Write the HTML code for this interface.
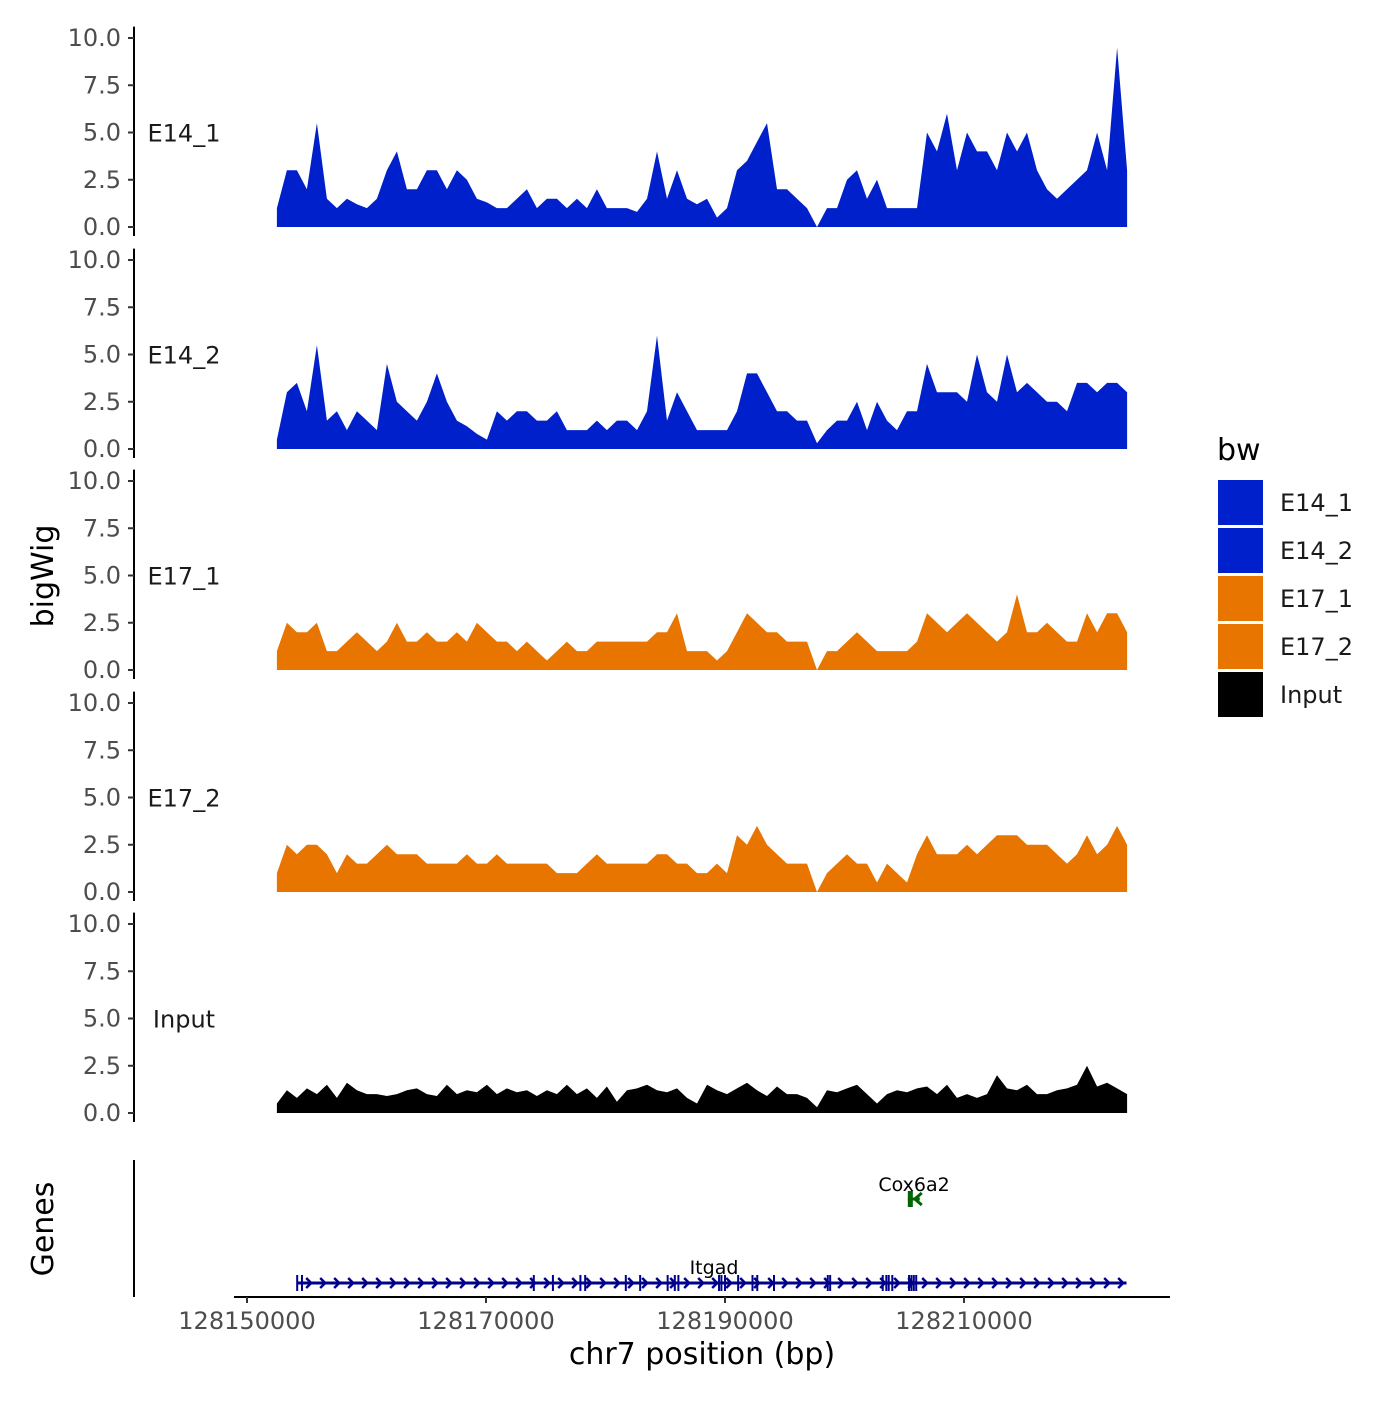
<!DOCTYPE html>
<html><head><meta charset="utf-8"><style>
body{margin:0;background:#fff;}
svg text{font-family:"DejaVu Sans","Liberation Sans",sans-serif;}
</style></head><body>
<svg id="c" width="1400" height="1400" viewBox="0 0 1400 1400" xmlns="http://www.w3.org/2000/svg"></svg>
<script>
const trackNames=["E14_1","E14_2","E17_1","E17_2","Input"];
const trackColors=["#0020CC","#0020CC","#E87500","#E87500","#000000"];
const yTicks=[0,2.5,5,7.5,10];
const yTickLabels=["0.0","2.5","5.0","7.5","10.0"];
const xTicks=[128150000,128170000,128190000,128210000];
const dataStart=128152500, dataStep=837;
const e14_1=[1,3,3,2,5.5,1.5,1,1.5,1.2,1,1.5,3,4,2,2,3,3,2,3,2.5,1.5,1.3,1,1,1.5,2,1,1.5,1.5,1,1.5,1,2,1,1,1,0.8,1.5,4,1.5,3,1.5,1.2,1.5,0.5,1,3,3.5,4.5,5.5,2,2,1.5,1,0,1,1,2.5,3,1.5,2.5,1,1,1,1,5,4,6,3,5,4,4,3,5,4,5,3,2,1.5,2,2.5,3,5,3,9.5,3];
const e14_2=[0.5,3,3.5,2,5.5,1.5,2,1,2,1.5,1,4.5,2.5,2,1.5,2.5,4,2.5,1.5,1.2,0.8,0.5,2,1.5,2,2,1.5,1.5,2,1,1,1,1.5,1,1.5,1.5,1,2,6,1.5,3,2,1,1,1,1,2,4,4,3,2,2,1.5,1.5,0.3,1,1.5,1.5,2.5,1,2.5,1.5,1,2,2,4.5,3,3,3,2.5,5,3,2.5,5,3,3.5,3,2.5,2.5,2,3.5,3.5,3,3.5,3.5,3];
const e17_1=[1,2.5,2,2,2.5,1,1,1.5,2,1.5,1,1.5,2.5,1.5,1.5,2,1.5,1.5,2,1.5,2.5,2,1.5,1.5,1,1.5,1,0.5,1,1.5,1,1,1.5,1.5,1.5,1.5,1.5,1.5,2,2,3,1,1,1,0.5,1,2,3,2.5,2,2,1.5,1.5,1.5,0,1,1,1.5,2,1.5,1,1,1,1,1.5,3,2.5,2,2.5,3,2.5,2,1.5,2,4,2,2,2.5,2,1.5,1.5,3,2,3,3,2];
const e17_2=[1,2.5,2,2.5,2.5,2,1,2,1.5,1.5,2,2.5,2,2,2,1.5,1.5,1.5,1.5,2,1.5,1.5,2,1.5,1.5,1.5,1.5,1.5,1,1,1,1.5,2,1.5,1.5,1.5,1.5,1.5,2,2,1.5,1.5,1,1,1.5,1,3,2.5,3.5,2.5,2,1.5,1.5,1.5,0,1,1.5,2,1.5,1.5,0.5,1.5,1,0.5,2,3,2,2,2,2.5,2,2.5,3,3,3,2.5,2.5,2.5,2,1.5,2,3,2,2.5,3.5,2.5];
const input=[0.5,1.2,0.8,1.3,1,1.5,0.8,1.6,1.2,1,1,0.9,1,1.2,1.3,1,0.9,1.5,1,1.2,1.1,1.5,1,1.3,1.1,1.2,0.9,1.2,1,1.5,1,1.3,0.8,1.4,0.6,1.2,1.3,1.5,1.2,1.1,1.3,0.8,0.5,1.5,1.2,1,1.3,1.6,1.2,0.9,1.4,1,1,0.8,0.3,1.2,1.1,1.3,1.5,1,0.5,1,1.2,1.1,1.3,1.4,1,1.5,0.8,1,0.8,1,2,1.3,1.2,1.5,1,1,1.2,1.3,1.5,2.5,1.4,1.6,1.3,1];
const trackValues=[e14_1,e14_2,e17_1,e17_2,input];
const itgadExons=[128154200,128154600,128174000,128175600,128177900,128178300,128181700,128182900,128185200,128185800,128186100,128189500,128189700,128190000,128191100,128192300,128192700,128194100,128198600,128198800,128203200,128203500,128203700,128204000,128205400,128205600,128205800,128206000];
const itgadStart=128154200, itgadEnd=128223600;
const cox6a2=[128205300,128206300];

const svg=document.getElementById('c');
const NS='http://www.w3.org/2000/svg';
function mk(tag,attrs,parent){const e=document.createElementNS(NS,tag);for(const k in attrs)e.setAttribute(k,attrs[k]);(parent||svg).appendChild(e);return e;}
const xScale=bp=>247+(bp-128150000)*239/20000;
const panelZero=[227,449,670,892,1113];
const yScale=(p,v)=>panelZero[p]-v*18.9;

trackNames.forEach((name,p)=>{
  const g=mk('g',{});
  
  
  mk('line',{x1:134,x2:134,y1:yScale(p,10.6),y2:panelZero[p]+9,stroke:'#000','stroke-width':2},g);
  yTicks.forEach((t,i)=>{
    const y=yScale(p,t);
    mk('line',{x1:128,x2:134,y1:y,y2:y,stroke:'#333','stroke-width':2},g);
    const tx=mk('text',{x:121,y:y+8,'text-anchor':'end','font-size':24,fill:'#4d4d4d'},g);
    tx.textContent=yTickLabels[i];
    
    
  });
  const lab=mk('text',{x:184,y:yScale(p,5)+9,'text-anchor':'middle','font-size':24,fill:'#1a1a1a'},g);
  lab.textContent=name;
  
  
  const vals=trackValues[p];
  let d='M'+xScale(dataStart)+','+panelZero[p];
  vals.forEach((v,i)=>{d+=' L'+xScale(dataStart+i*dataStep).toFixed(1)+','+yScale(p,v).toFixed(1);});
  d+=' L'+xScale(dataStart+(vals.length-1)*dataStep).toFixed(1)+','+panelZero[p]+'Z';
  const a=mk('path',{d:d,fill:trackColors[p]},g);
  
  
});

// genes panel
const gg=mk('g',{});


mk('line',{x1:134,x2:134,y1:1160,y2:1297,stroke:'#000','stroke-width':2},gg);
const gy=1283;
mk('line',{x1:xScale(itgadStart),x2:xScale(itgadEnd),y1:gy,y2:gy,stroke:'#00008B','stroke-width':3},gg);
for(let x=xScale(itgadStart)+12;x<xScale(itgadEnd);x+=14){
  mk('polyline',{points:(x-3)+','+(gy-5)+' '+(x+2)+','+gy+' '+(x-3)+','+(gy+5),fill:'none',stroke:'#00008B','stroke-width':2.5},gg);
}
itgadExons.forEach(b=>{const x=xScale(b);mk('line',{x1:x,x2:x,y1:gy-8,y2:gy+8,stroke:'#00008B','stroke-width':2},gg);});
const it=mk('text',{x:714,y:1274,'text-anchor':'middle','font-size':19,fill:'#000'},gg);
it.textContent='Itgad';


const cy=1199;
mk('line',{x1:xScale(cox6a2[0]),x2:xScale(cox6a2[1]),y1:cy,y2:cy,stroke:'#006400','stroke-width':3},gg);
mk('rect',{x:xScale(cox6a2[0]),y:cy-8,width:5,height:16,fill:'#006400'},gg);
mk('polyline',{points:(xScale(cox6a2[1])+2)+','+(cy-6)+' '+(xScale(cox6a2[1])-5)+','+cy+' '+(xScale(cox6a2[1])+2)+','+(cy+6),fill:'none',stroke:'#006400','stroke-width':3},gg);
const cx=mk('text',{x:914,y:1191,'text-anchor':'middle','font-size':19,fill:'#000'},gg);
cx.textContent='Cox6a2';



// x axis
const xa=mk('g',{});


mk('line',{x1:234,x2:1170,y1:1297,y2:1297,stroke:'#000','stroke-width':2},xa);
xTicks.forEach(t=>{
  const x=xScale(t);
  mk('line',{x1:x,x2:x,y1:1297,y2:1303,stroke:'#333','stroke-width':2},xa);
  const tx=mk('text',{x:x,y:1329,'text-anchor':'middle','font-size':24,fill:'#4d4d4d'},xa);
  tx.textContent=t;
  
  
});
const xt=mk('text',{x:702,y:1364,'text-anchor':'middle','font-size':30,fill:'#000'});
xt.textContent='chr7 position (bp)';


const yt=mk('text',{x:0,y:0,'text-anchor':'middle','font-size':30,fill:'#000',transform:'translate(53,576) rotate(-90)'});
yt.textContent='bigWig';


const gt=mk('text',{x:0,y:0,'text-anchor':'middle','font-size':30,fill:'#000',transform:'translate(53,1229) rotate(-90)'});
gt.textContent='Genes';



// legend
const lg=mk('g',{});


const lt=mk('text',{x:1217,y:460,'font-size':30,fill:'#000'},lg);
lt.textContent='bw';
trackNames.forEach((n,i)=>{
  const y=480+i*48;
  const r=mk('rect',{x:1218,y:y,width:45,height:45,fill:trackColors[i]},lg);
  
  
  const t=mk('text',{x:1280,y:y+31,'font-size':24,fill:'#1a1a1a'},lg);
  t.textContent=n;
  
  
});
</script>
</body></html>
